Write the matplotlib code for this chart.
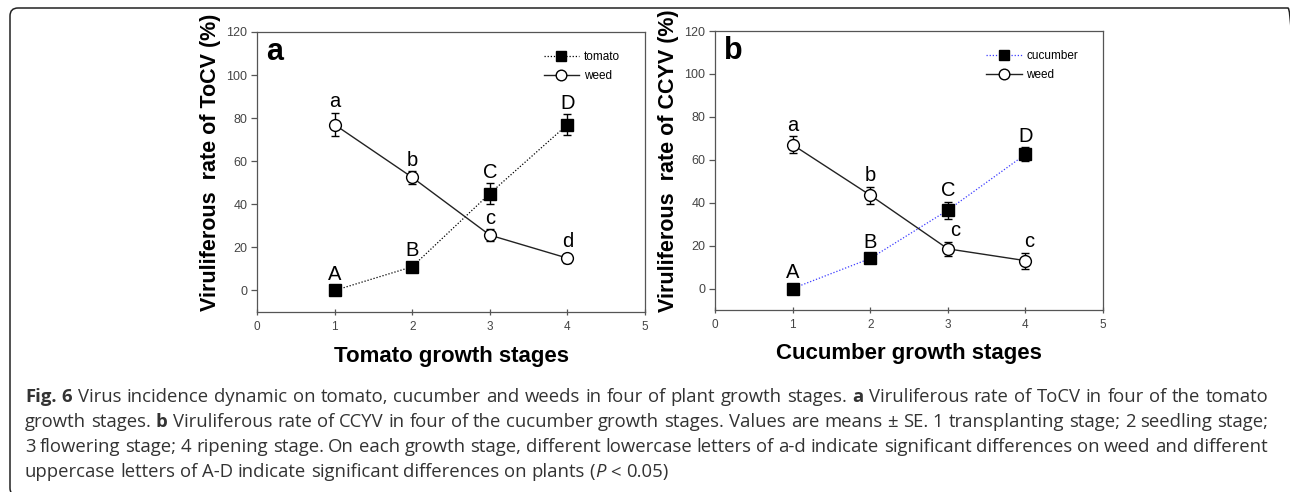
import numpy as np
import matplotlib.pyplot as plt
from matplotlib.patches import FancyBboxPatch

# values (means and SE)
stages = [1, 2, 3, 4]
tomato = [0, 11, 45, 77]
tomato_se = [0, 1, 4.7, 4.7]
weed_a = [77, 52.5, 25.7, 15]
weed_a_se = [5.5, 3, 2.8, 2.1]
cucumber = [0, 14, 36.5, 62.5]
cucumber_se = [0, 1.5, 4, 3.3]
weed_b = [67, 43.5, 18.5, 13]
weed_b_se = [4, 4, 3.3, 3.7]
plant_letters = ['A', 'B', 'C', 'D']
weed_a_letters = ['a', 'b', 'c', 'd']
weed_b_letters = ['a', 'b', 'c', 'c']
xticks = [0, 1, 2, 3, 4, 5]
yticks = [0, 20, 40, 60, 80, 100, 120]

plt.rcParams['font.family'] = ['Liberation Sans', 'DejaVu Sans']

W, H = 1290, 492
fig = plt.figure(figsize=(W/100, H/100), dpi=100)


def panel(ax, plant, plant_se, plant_name, plant_color, weed, weed_se, weed_letters, weed_dx, tag, ylab, xlab):
    # error bars first, markers on top
    ax.errorbar(stages, plant, yerr=plant_se, fmt='none', ecolor='black', elinewidth=1, capsize=3, capthick=1, zorder=2)
    ax.errorbar(stages, weed, yerr=weed_se, fmt='none', ecolor='black', elinewidth=1, capsize=3, capthick=1, zorder=2)
    hp, = ax.plot(stages, plant, ls=(0, (1, 1.5)), lw=0.9, color=plant_color, marker='s', ms=8,
                  mfc='black', mec='black', label=plant_name, zorder=3)
    hw, = ax.plot(stages, weed, ls='-', lw=1, color='#222222', marker='o', ms=8.5,
                  mfc='white', mec='black', mew=1, label='weed', zorder=3)
    for x, y, e, s in zip(stages, plant, plant_se, plant_letters):
        ax.text(x, y + max(e, 2.5) + 2.5, s, ha='center', va='baseline', fontsize=14.5)
    for x, y, e, s, dx in zip(stages, weed, weed_se, weed_letters, weed_dx):
        ax.text(x + dx, y + max(e, 2.5) + 2.5, s, ha='center', va='baseline', fontsize=14.5)
    ax.set_xlim(0, 5)
    ax.set_ylim(-10, 120)
    ax.set_xticks(xticks)
    ax.set_yticks(yticks)
    ax.tick_params(axis='x', direction='inout', length=5, width=0.9, colors='#555555', labelcolor='#444444', labelsize=8.5, pad=4)
    ax.tick_params(axis='y', direction='out', length=4, width=0.9, colors='#555555', labelcolor='#444444', labelsize=9, pad=3)
    for sp in ax.spines.values():
        sp.set_color('#555555')
        sp.set_linewidth(0.9)
    ax.text(0.024, 0.9, tag, transform=ax.transAxes, fontsize=22, fontweight='bold', ha='left', va='baseline')
    ax.set_ylabel(ylab, fontsize=15.5, fontweight='bold')
    ax.yaxis.set_label_coords(-0.092, 0.536)
    ax.set_xlabel(xlab, fontsize=16, fontweight='bold')
    ax.xaxis.set_label_coords(0.5, -0.12)
    ax.legend(handles=[hp, hw], loc='upper right', bbox_to_anchor=(0.96, 0.965), frameon=False,
              fontsize=8.5, handlelength=3.0, handletextpad=0.4, labelspacing=0.55, markerscale=0.9,
              borderpad=0.3)


ax1 = fig.add_axes([257/W, 1-312/H, 388/W, 280/H])
ax2 = fig.add_axes([715/W, 1-310/H, 388/W, 279/H])
panel(ax1, tomato, tomato_se, 'tomato', 'black', weed_a, weed_a_se, weed_a_letters, [0, 0, 0, 0], 'a',
      'Viruliferous  rate of ToCV (%)', 'Tomato growth stages')
panel(ax2, cucumber, cucumber_se, 'cucumber', '#3b3bff', weed_b, weed_b_se, weed_b_letters, [0, 0, 0.1, 0.05], 'b',
      'Viruliferous  rate of CCYV (%)', 'Cucumber growth stages')

# rounded frame around the figure (open to the right/bottom edges)
frame = FancyBboxPatch((0.10, -0.04), 12.86, 4.88, boxstyle='round,pad=0,rounding_size=0.08',
                       transform=fig.dpi_scale_trans, fill=False, ec='#222222', lw=1.1, clip_on=False)
fig.add_artist(frame)

# caption, drawn word by word so bold/italic pieces and justification work
cap_font = dict(family=['Open Sans', 'DejaVu Sans'], size=13.3, color='#333333')
N = {}
B = {'fontweight': 'bold'}
I = {'fontstyle': 'italic'}
caption = [
    ([('Fig. 6', B), (' Virus incidence dynamic on tomato, cucumber and weeds in four of plant growth stages. ', N),
      ('a', B), (' Viruliferous rate of ToCV in four of the tomato', N)], True),
    ([('growth stages. ', N), ('b', B),
      (' Viruliferous rate of CCYV in four of the cucumber growth stages. Values are means \u00b1 SE. 1 transplanting stage; 2 seedling stage;', N)], True),
    ([('3 flowering stage; 4 ripening stage. On each growth stage, different lowercase letters of a-d indicate significant differences on weed and different', N)], True),
    ([('uppercase letters of A-D indicate significant differences on plants (', N), ('P', I), (' < 0.05)', N)], False),
]
baselines = [402, 427, 452, 477]
x_left, x_right = 25, 1268

renderer = fig.canvas.get_renderer()


def width_of(s, props):
    t = fig.text(0, 0, s, **cap_font, **props)
    w = t.get_window_extent(renderer=renderer).width
    t.remove()
    return w


space = width_of('a a', N) - width_of('aa', N)

for (runs, justify), yb in zip(caption, baselines):
    words = []
    glue = False
    for text, props in runs:
        parts = text.split(' ')
        for i, p in enumerate(parts):
            if i == 0 and glue:
                if p:
                    words[-1].append((p, props))
            elif p:
                words.append([(p, props)])
        glue = not text.endswith(' ')
    widths = [[width_of(p, pr) for p, pr in w] for w in words]
    total = sum(sum(w) for w in widths)
    gap = (x_right - x_left - total) / (len(words) - 1) if justify else space
    x = x_left
    for w, ws in zip(words, widths):
        for (p, pr), pw in zip(w, ws):
            fig.text(x / W, 1 - yb / H, p, ha='left', va='baseline', **cap_font, **pr)
            x += pw
        x += gap

plt.savefig('out.png', dpi=100)
